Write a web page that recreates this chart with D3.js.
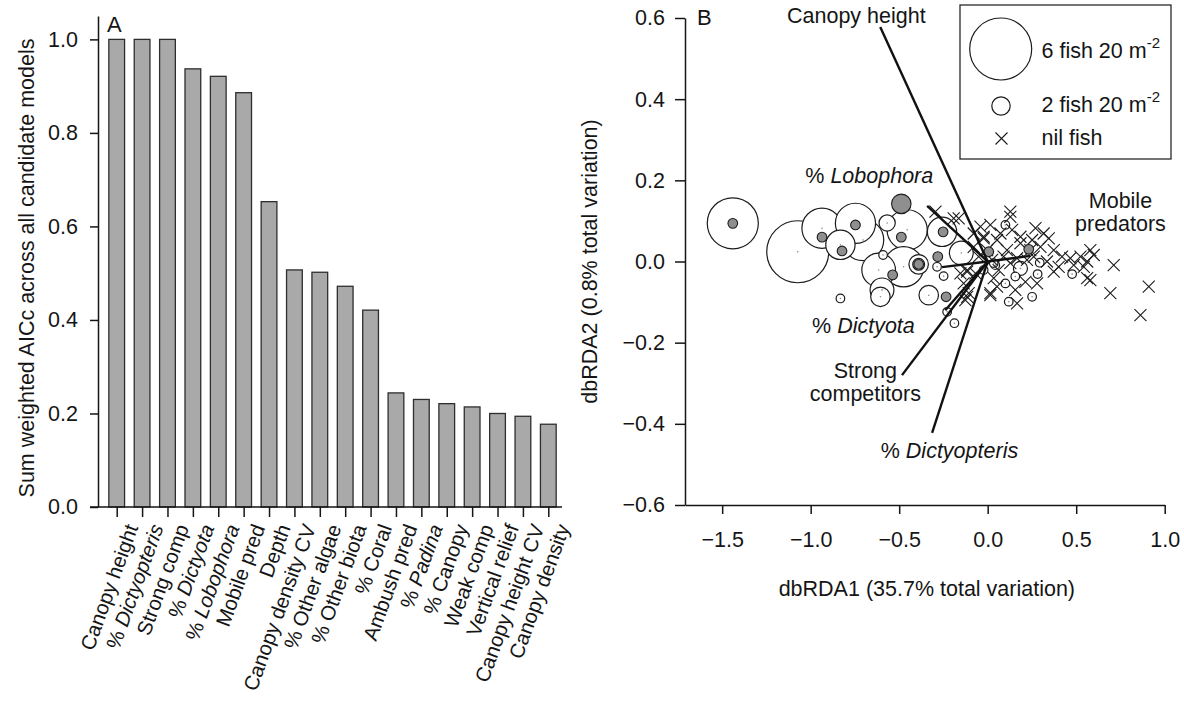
<!DOCTYPE html>
<html>
<head>
<meta charset="utf-8">
<script src="https://cdn.jsdelivr.net/npm/d3@7"></script>
<style>
  body { margin: 0; background: #fff; }
  text { font-family: "Liberation Sans", Arial, sans-serif; fill: #151515; }
</style>
</head>
<body>
<svg id="chart" width="1184" height="703"></svg>
<script>
// ---------- Panel A : summed AICc weights ----------
const predictors = [
  "Canopy height", "% Dictyopteris", "Strong comp", "% Dictyota", "% Lobophora",
  "Mobile pred", "Depth", "Canopy density CV", "% Other algae", "% Other biota",
  "% Coral", "Ambush pred", "% Padina", "% Canopy", "Weak comp",
  "Vertical relief", "Canopy height CV", "Canopy density"
];
// genus names are set in italics
const italicNames = ["Dictyopteris", "Dictyota", "Lobophora", "Padina"];
const weights = [1.0, 1.0, 1.0, 0.937, 0.921, 0.886, 0.653, 0.507, 0.502,
  0.472, 0.421, 0.244, 0.230, 0.221, 0.214, 0.200, 0.194, 0.177];
const weightTicks = [0, 0.2, 0.4, 0.6, 0.8, 1.0];

// ---------- Panel B : dbRDA ordination ----------
// sites with fish: [dbRDA1, dbRDA2, fish per 20 m2]
const fishSites = [
  [-1.073, 0.024, 6], [-1.44, 0.094, 5], [-0.936, 0.082, 4], [-0.747, 0.094, 4],
  [-0.704, 0.053, 4.1], [-0.455, 0.078, 4], [-0.475, -0.013, 4], [-0.616, -0.021, 3.4],
  [-0.832, 0.041, 3], [-0.258, 0.073, 3], [-0.597, -0.070, 2.5], [-0.149, 0.021, 2.5],
  [-0.606, -0.087, 2.1], [-0.333, -0.083, 2.1], [-0.390, -0.007, 2.1], [-0.568, 0.095, 1.8],
  [0.185, -0.017, 1.6], [-0.390, -0.007, 1.4],
  [-0.832, -0.091, 1.1], [-0.591, 0.016, 1.1], [-0.286, -0.013, 1.1], [-0.249, -0.036, 1.1],
  [-0.229, -0.124, 1.1], [-0.188, -0.152, 1.1], [0.100, 0.090, 1.1], [0.156, -0.037, 1.1],
  [0.043, -0.009, 1.1], [0.294, -0.003, 1.1], [0.251, -0.087, 1.1], [0.119, -0.099, 1.1],
  [0.100, -0.054, 1.1], [0.477, -0.031, 1.1], [0.282, -0.031, 1.1], [-0.023, -0.021, 1.1],
  [0.034, -0.004, 1.1]
];
// second group, grey symbols: [dbRDA1, dbRDA2, size]
const greySites = [
  [-1.44, 0.094, 1.2], [-0.936, 0.060, 1.2], [-0.823, 0.026, 1.2], [-0.747, 0.090, 1.2],
  [-0.488, 0.142, 2.1], [-0.488, 0.060, 1.2], [-0.537, -0.033, 1.2], [-0.390, -0.007, 1.2],
  [-0.252, 0.073, 1.2], [-0.282, 0.012, 1.2], [-0.235, -0.087, 1.2], [0.006, 0.024, 1.2],
  [0.232, 0.030, 1.2]
];
// sites with nil fish: [dbRDA1, dbRDA2]
const nilSites = [
  [-0.295, 0.123], [-0.164, 0.106], [0.128, 0.123], [-0.041, 0.086], [0.015, 0.090],
  [-0.079, 0.069], [-0.023, 0.057], [0.053, 0.053], [-0.003, 0.028], [0.138, 0.078],
  [0.185, 0.061], [0.270, 0.082], [0.316, 0.069], [0.345, 0.057], [0.251, 0.053],
  [0.298, 0.036], [0.373, 0.028], [0.420, 0.012], [0.467, 0.008], [0.524, 0.012],
  [0.580, 0.028], [0.599, 0.016], [0.562, 0.000], [0.543, -0.013], [0.486, -0.009],
  [0.401, -0.013], [0.335, 0.000], [0.260, 0.012], [0.222, 0.004], [0.166, 0.008],
  [0.128, -0.004], [0.090, 0.012], [0.062, -0.021], [0.034, -0.041], [0.015, -0.083],
  [0.053, -0.062], [0.156, -0.070], [0.213, -0.050], [0.279, -0.054], [0.166, -0.103],
  [0.373, -0.025], [-0.069, -0.029], [-0.116, -0.021], [-0.154, -0.029], [-0.126, -0.095],
  [-0.107, -0.078], [0.562, -0.041], [0.580, -0.046], [0.712, -0.009], [0.693, -0.078],
  [0.910, -0.062], [0.863, -0.132], [-0.051, 0.012], [-0.079, 0.036], [0.025, 0.004],
  [0.241, 0.028], [0.109, 0.028], [0.072, 0.069], [-0.192, 0.106], [-0.116, -0.025],
  [-0.136, -0.054], [-0.116, -0.087], [0.015, -0.078], [-0.023, 0.061], [0.128, 0.110],
  [0.185, 0.045]
];
// biplot vectors: end point [dbRDA1, dbRDA2]
const vectors = [
  [-0.607, 0.578], [-0.342, 0.137], [0.241, 0.014], [-0.258, -0.014],
  [-0.24, -0.12], [-0.484, -0.280], [-0.314, -0.422]
];
// vector labels: lines of text, anchor [dbRDA1, dbRDA2]
const vectorLabels = [
  { lines: [["Canopy height", ""]], at: [-0.742, 0.587] },
  { lines: [["% ", "Lobophora"]], at: [-0.669, 0.194] },
  { lines: [["Mobile", ""], ["predators", ""]], at: [0.75, 0.132] },
  { lines: [["% ", "Dictyota"]], at: [-0.702, -0.177] },
  { lines: [["Strong", ""], ["competitors", ""]], at: [-0.691, -0.286] },
  { lines: [["% ", "Dictyopteris"]], at: [-0.216, -0.485] }
];
const xTicksB = [-1.5, -1.0, -0.5, 0.0, 0.5, 1.0];
const yTicksB = [-0.6, -0.4, -0.2, 0.0, 0.2, 0.4, 0.6];

const svg = d3.select("#chart");
const FS = "21.5px";
const fmt = d3.format(".1f");
const CROSS = "M-6,-6L6,6M-6,6L6,-6";

// ===== Panel A =====
const gA = svg.append("g");
const xA = d3.scalePoint().domain(predictors).range([116.7, 548.3]);
const yA = d3.scaleLinear().domain([0, 1.05]).range([507, 16]);
const barW = xA.step() * 0.62;

gA.selectAll("rect.bar")
  .data(weights)
  .join("rect")
  .attr("class", "bar")
  .attr("x", (d, i) => xA(predictors[i]) - barW / 2)
  .attr("y", d => yA(d))
  .attr("width", barW)
  .attr("height", d => yA(0) - yA(d))
  .attr("fill", "#a9a9a9")
  .attr("stroke", "#2e2e2e")
  .attr("stroke-width", 1.3);

// y axis
gA.append("g")
  .attr("transform", "translate(98,0)")
  .call(d3.axisLeft(yA).tickValues(weightTicks).tickFormat(fmt)
    .tickSize(8).tickSizeOuter(0).tickPadding(12));
// x axis (ticks only, labels drawn below)
const axAx = gA.append("g")
  .attr("transform", "translate(0,507)")
  .call(d3.axisBottom(xA).tickSize(10).tickSizeOuter(0).tickFormat(""));
axAx.select(".domain").remove();
gA.append("line")
  .attr("x1", 90).attr("x2", 562).attr("y1", yA(0)).attr("y2", yA(0))
  .attr("stroke", "#151515").attr("stroke-width", 1.5);

gA.selectAll(".xlab")
  .data(predictors)
  .join("text")
  .attr("class", "xlab")
  .attr("transform", d => `translate(${xA(d) + 15},525) rotate(-70)`)
  .attr("text-anchor", "end")
  .attr("dy", "0.35em")
  .style("font-size", "20.5px")
  .each(function (d) {
    const t = d3.select(this);
    const genus = italicNames.find(n => d.endsWith(n));
    if (genus) {
      t.append("tspan").text("% ");
      t.append("tspan").attr("font-style", "italic").text(genus);
    } else {
      t.text(d);
    }
  });

gA.append("text")
  .attr("transform", "translate(34,268) rotate(-90)")
  .attr("text-anchor", "middle")
  .style("font-size", FS)
  .text("Sum weighted AICc across all candidate models");

gA.append("text").attr("x", 107).attr("y", 32).style("font-size", "22px").text("A");

// ===== Panel B =====
const gB = svg.append("g");
const xB = d3.scaleLinear().domain([-1.71, 1.0]).range([685, 1164.7]);
const yB = d3.scaleLinear().domain([-0.6, 0.6]).range([505, 18]);
const rB = d3.scaleLinear().domain([2, 6]).range([9.2, 31]);

gB.append("g")
  .attr("transform", "translate(685,0)")
  .call(d3.axisLeft(yB).tickValues(yTicksB).tickFormat(fmt)
    .tickSize(10).tickSizeOuter(0).tickPadding(10));
gB.append("g")
  .attr("transform", "translate(0,505)")
  .call(d3.axisBottom(xB).tickValues(xTicksB).tickFormat(fmt)
    .tickSize(9).tickSizeOuter(0).tickPadding(18));

gB.append("text")
  .attr("x", (xB(-1.71) + xB(1.0)) / 2 + 2).attr("y", 596)
  .attr("text-anchor", "middle").style("font-size", FS)
  .text("dbRDA1 (35.7% total variation)");
gB.append("text")
  .attr("transform", `translate(597,${yB(0)}) rotate(-90)`)
  .attr("text-anchor", "middle").style("font-size", FS)
  .text("dbRDA2 (0.8% total variation)");
gB.append("text").attr("x", 697).attr("y", 25).style("font-size", "22px").text("B");

// bubbles, largest first so small ones stay visible
const sorted = fishSites.slice().sort((a, b) => b[2] - a[2]);
gB.selectAll("circle.fish")
  .data(sorted)
  .join("circle")
  .attr("class", "fish")
  .attr("cx", d => xB(d[0])).attr("cy", d => yB(d[1]))
  .attr("r", d => rB(d[2]))
  .attr("fill", "#fff").attr("stroke", "#1c1c1c").attr("stroke-width", 1.2);
gB.selectAll("circle.dot")
  .data(fishSites)
  .join("circle")
  .attr("class", "dot")
  .attr("cx", d => xB(d[0])).attr("cy", d => yB(d[1]))
  .attr("r", 0.8).attr("fill", "#888");

gB.selectAll("path.nil")
  .data(nilSites)
  .join("path")
  .attr("class", "nil")
  .attr("transform", d => `translate(${xB(d[0])},${yB(d[1])})`)
  .attr("d", CROSS)
  .attr("stroke", "#1c1c1c").attr("stroke-width", 1.1).attr("fill", "none");

gB.selectAll("circle.grey")
  .data(greySites)
  .join("circle")
  .attr("class", "grey")
  .attr("cx", d => xB(d[0])).attr("cy", d => yB(d[1]))
  .attr("r", d => rB(d[2]))
  .attr("fill", "#8f8f8f").attr("stroke", "#1c1c1c").attr("stroke-width", 1.1);

gB.selectAll("line.vec")
  .data(vectors)
  .join("line")
  .attr("class", "vec")
  .attr("x1", xB(0)).attr("y1", yB(0))
  .attr("x2", d => xB(d[0])).attr("y2", d => yB(d[1]))
  .attr("stroke", "#111").attr("stroke-width", 2.4);

vectorLabels.forEach(lab => {
  const t = gB.append("text")
    .attr("x", xB(lab.at[0])).attr("y", yB(lab.at[1]))
    .attr("text-anchor", "middle").style("font-size", FS);
  lab.lines.forEach((ln, i) => {
    const row = t.append("tspan").attr("x", xB(lab.at[0])).attr("dy", i === 0 ? 0 : 23);
    row.append("tspan").text(ln[0]);
    if (ln[1]) row.append("tspan").attr("font-style", "italic").text(ln[1]);
  });
});

// legend
const lg = gB.append("g");
lg.append("rect").attr("x", 960).attr("y", 5).attr("width", 211).attr("height", 154)
  .attr("fill", "#fff").attr("stroke", "#2a2a2a").attr("stroke-width", 1.3);
lg.append("circle").attr("cx", 1000.7).attr("cy", 49).attr("r", rB(6))
  .attr("fill", "#fff").attr("stroke", "#1c1c1c").attr("stroke-width", 1.2);
lg.append("circle").attr("cx", 1001).attr("cy", 106).attr("r", rB(2))
  .attr("fill", "#fff").attr("stroke", "#1c1c1c").attr("stroke-width", 1.2);
lg.append("path").attr("transform", "translate(1001.5,138.5)")
  .attr("d", CROSS)
  .attr("stroke", "#1c1c1c").attr("stroke-width", 1.1);
[["6 fish 20 m", 57.5], ["2 fish 20 m", 111.5]].forEach(([s, y]) => {
  const t = lg.append("text").attr("x", 1041.5).attr("y", y).style("font-size", FS);
  t.append("tspan").text(s);
  t.append("tspan").attr("dy", -10).style("font-size", "15px").text("-2");
});
lg.append("text").attr("x", 1041.5).attr("y", 145).style("font-size", FS).text("nil fish");

// axis styling
svg.selectAll(".tick text").style("font-size", FS).attr("fill", "#151515");
svg.selectAll(".tick line").attr("stroke", "#151515").attr("stroke-width", 1.5);
svg.selectAll(".domain").attr("stroke", "#151515").attr("stroke-width", 1.5);
</script>
</body>
</html>
